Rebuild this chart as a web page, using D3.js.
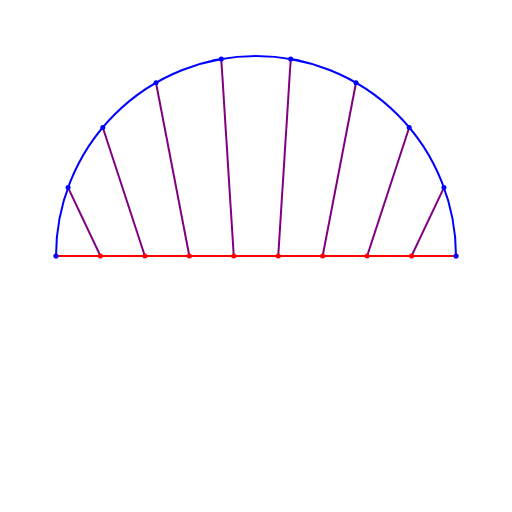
<!DOCTYPE html>
<html><head><meta charset="utf-8">
<script src="https://cdn.jsdelivr.net/npm/d3@7"></script>
<style>body{margin:0;background:#fff}</style></head>
<body><svg id="c" width="512" height="512"></svg>
<script>
// arc point angles (degrees) and projected positions on diameter
const arcAngles = [180,160,140,120,100,80,60,40,20,0];
const lineXs = [-1,-0.7778,-0.5556,-0.3333,-0.1111,0.1111,0.3333,0.5556,0.7778,1];

const svg = d3.select("#c");
const x = d3.scaleLinear().domain([-1,1]).range([56,456]);
const y = d3.scaleLinear().domain([0,1]).range([256,56]);
const r = x(1)-x(0);

const arcPts = arcAngles.map(a=>({x:Math.cos(a*Math.PI/180), y:Math.sin(a*Math.PI/180)}));

svg.append("path")
  .attr("transform",`translate(${x(0)},${y(0)})`)
  .attr("d", d3.arc()({innerRadius:r,outerRadius:r,startAngle:-Math.PI/2,endAngle:Math.PI/2}))
  .attr("fill","none").attr("stroke","blue").attr("stroke-width",2);

svg.selectAll("line.c").data(arcPts).join("line")
  .attr("x1",d=>x(d.x)).attr("y1",d=>y(d.y))
  .attr("x2",(d,i)=>x(lineXs[i])).attr("y2",y(0))
  .attr("stroke","purple").attr("stroke-width",2);

svg.append("line").attr("x1",x(-1)).attr("x2",x(1)).attr("y1",y(0)).attr("y2",y(0))
  .attr("stroke","red").attr("stroke-width",2);

svg.selectAll("circle.r").data(lineXs).join("circle")
  .attr("cx",d=>x(d)).attr("cy",y(0)).attr("r",2.5).attr("fill","red");
svg.selectAll("circle.b").data(arcPts).join("circle")
  .attr("cx",d=>x(d.x)).attr("cy",d=>y(d.y)).attr("r",2.5).attr("fill","blue");
</script></body></html>
